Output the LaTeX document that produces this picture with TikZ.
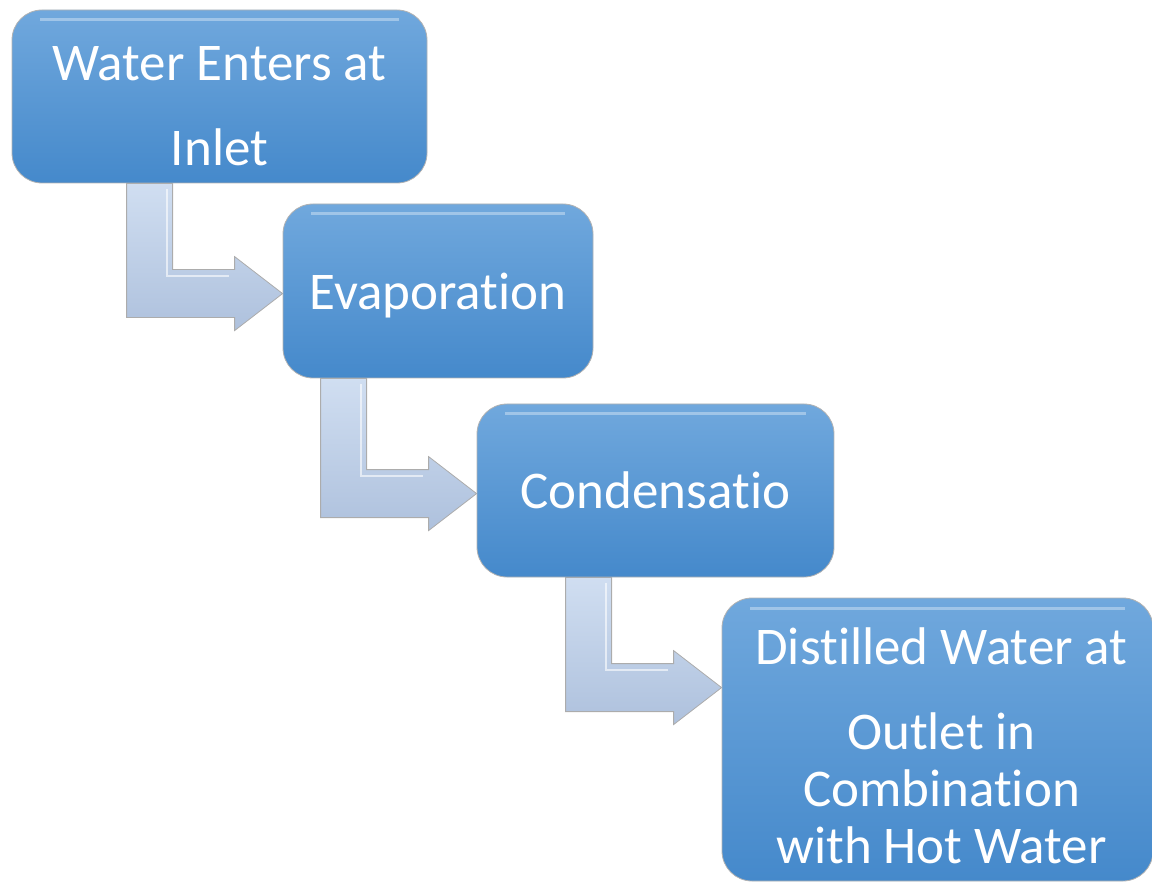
\documentclass[tikz,border=0pt]{standalone}
\usepackage{fontspec}
\setmainfont[RawFeature={-liga,-calt,-dlig,-clig}]{Carlito}
\usetikzlibrary{calc,backgrounds}
\definecolor{boxtop}{RGB}{112,168,221}
\definecolor{boxbot}{RGB}{69,137,203}
\definecolor{arrtop}{RGB}{208,222,241}
\definecolor{arrbot}{RGB}{174,193,221}
\tikzset{
  stepbox/.style={rectangle, rounded corners=15pt, inner sep=0pt,
    top color=boxtop, bottom color=boxbot, draw=gray!60, thin,
    path picture={\draw[white, opacity=0.35, line width=1.5pt]
      ([xshift=14pt,yshift=-5pt]path picture bounding box.north west) --
      ([xshift=-14pt,yshift=-5pt]path picture bounding box.north east);}},
  steptext/.style={align=center, text=white, inner sep=0pt,
    font=\fontsize{26.5}{42.5}\selectfont},
  bentarrow/.style={top color=arrtop, bottom color=arrbot, draw=gray!65, thin}
}
% L-shaped arrow from the bottom of #1 into the left side of #2
\newcommand{\bentarrow}[2]{%
  \path[bentarrow] let \p1=(#1.south), \p2=(#2.north west) in
    (\x2-78pt,\y1) -- (\x2-55pt,\y1) -- (\x2-55pt,\y2-33pt)
    -- (\x2-24pt,\y2-33pt) -- (\x2-24pt,\y2-26.5pt) -- (\x2,\y2-45pt)
    -- (\x2-24pt,\y2-63.5pt) -- (\x2-24pt,\y2-57pt) -- (\x2-78pt,\y2-57pt) -- cycle;
  \draw[white, opacity=0.6, line width=1pt] let \p1=(#1.south), \p2=(#2.north west) in
    (\x2-58pt,\y1-3pt) -- (\x2-58pt,\y2-36pt) -- (\x2-27pt,\y2-36pt);
}
\begin{document}
\begin{tikzpicture}[x=0.5pt, y=-0.5pt]
  \useasboundingbox (0,0) rectangle (1152,882);
  \node[stepbox, minimum width=207.5pt, minimum height=86.5pt] (inlet) at (219.5,96.5) {};
  \node[stepbox, minimum width=155pt, minimum height=87pt] (evap) at (438,291) {};
  \node[stepbox, minimum width=178.5pt, minimum height=86.5pt] (cond) at (655.5,490.5) {};
  \node[stepbox, minimum width=215.5pt, minimum height=141.5pt] (outlet) at (937.5,739.5) {};
  \begin{pgfonlayer}{background}
    \bentarrow{inlet}{evap}
    \bentarrow{evap}{cond}
    \bentarrow{cond}{outlet}
  \end{pgfonlayer}
  % labels
  \node[steptext] at ([yshift=-5pt]inlet.center) {Water Enters at\\Inlet};
  \node[steptext] at ([yshift=-2.5pt]evap.center) {Evaporation};
  \node[steptext] at ([yshift=0pt]cond.center) {Condensatio};
  \node[steptext, font=\fontsize{26.5}{28.5}\selectfont] at ([xshift=2pt,yshift=-3pt]outlet.center)
    {Distilled Water at\\[14pt]Outlet in\\Combination\\with Hot Water};
\end{tikzpicture}
\end{document}
